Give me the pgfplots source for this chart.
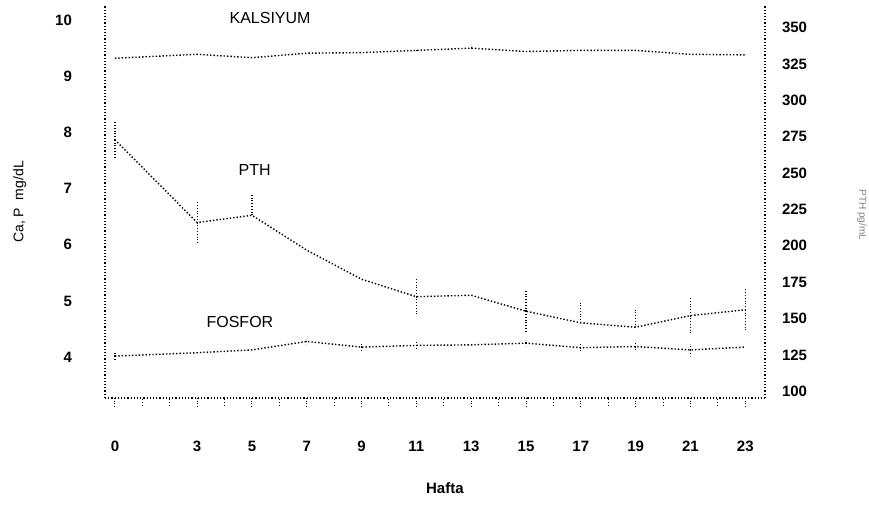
\documentclass[border=0pt]{standalone}
\usepackage{fontspec}
\setmainfont{Liberation Sans}
\usepackage{pgfplots}
\pgfplotsset{compat=1.18}

\pgfplotsset{
  common/.style={
    scale only axis,
    width=330pt,
    height=196pt,
    xmin=-0.365, xmax=23.72,
    /pgf/number format/assume math mode=true,
    tick label style={font=\fontsize{7.5}{8}\selectfont\bfseries},
    axis line style={black, densely dotted, line width=0.6pt},
  },
  dataline/.style={black, densely dotted, line width=0.7pt, mark=none},
  ebars/.style={error bars/.cd, y dir=both, y explicit, error mark=none,
    error bar style={densely dotted, line width=0.6pt}},
}

\begin{document}
\begin{tikzpicture}
% left axis: Ca and P (mg/dL)
\begin{axis}[
  common,
  axis y line*=left,
  axis x line*=bottom,
  ymin=3.274, ymax=10.25,
  ytick={4,5,6,7,8,9,10},
  xtick={0,3,5,7,9,11,13,15,17,19,21,23},
  minor xtick={1,2,4,6,8,10,12,14,16,18,20,22},
  tick align=outside,
  x tick style={black, densely dotted, line width=0.5pt},
  minor x tick style={black, densely dotted, line width=0.5pt},
  y tick style={draw=none},
  major tick length=4pt,
  minor tick length=4pt,
  xticklabel style={yshift=-14pt},
  yticklabel style={xshift=-9pt},
  ylabel={Ca, P \ mg/dL},
  ylabel style={at={(axis description cs:-0.129,0.5)}, anchor=center,
    font=\fontsize{7}{8}\selectfont},
  clip=false,
]
% KALSIYUM
\addplot[dataline, ebars]
  coordinates {(0,9.32) (3,9.39) +- (0,0.04) (5,9.33) (7,9.41) (9,9.42) (11,9.46) +- (0,0.04)
  (13,9.50) +- (0,0.05) (15,9.44) (17,9.46) (19,9.46) +- (0,0.04) (21,9.39) (23,9.38)};
% FOSFOR
\addplot[dataline, ebars]
  coordinates {(0,4.02) +- (0,0.06) (3,4.08) (5,4.13) (7,4.28) +- (0,0.05) (9,4.18) +- (0,0.06)
  (11,4.21) +- (0,0.08) (13,4.22) (15,4.25) +- (0,0.05) (17,4.17) +- (0,0.06)
  (19,4.19) +- (0,0.08) (21,4.13) +- (0,0.1) (23,4.18)};
\node[font=\fontsize{8}{9}\selectfont] at (axis cs:5.66,10.04) {KALSIYUM};
\node[font=\fontsize{8}{9}\selectfont] at (axis cs:4.56,4.63) {FOSFOR};
\node[font=\fontsize{8}{9}\selectfont] at (axis cs:5.1,7.33) {PTH};
\node[font=\fontsize{7.5}{8}\selectfont\bfseries] at (axis description cs:0.515,-0.2296) {Hafta};
\coordinate (bbsw) at (axis description cs:-0.159,-0.2806);
\coordinate (bbne) at (axis description cs:1.1576,1.0153);
\end{axis}
% right axis: PTH (pg/mL)
\begin{axis}[
  common,
  axis y line*=right,
  axis x line=none,
  ymin=95.3, ymax=365,
  ytick={100,125,150,175,200,225,250,275,300,325,350},
  y tick style={draw=none},
  yticklabel style={xshift=5pt},
  ylabel={PTH pg/mL},
  ylabel style={at={(axis description cs:1.147,0.467)}, anchor=center, rotate=180,
    font=\fontsize{5}{6}\selectfont, text=gray},
  clip=false,
]
\addplot[dataline, ebars]
  coordinates {(0,273) +- (0,12) (3,216) +- (0,14) (5,221) += (0,15) (7,197) (9,177)
  (11,165) +- (0,12) (13,166) (15,155) +- (0,14) (17,147) += (0,14)
  (19,144) += (0,12) (21,152) +- (0,12) (23,156) +- (0,14)};
\end{axis}
\pgfresetboundingbox
\path[use as bounding box] (bbsw) rectangle (bbne);
\end{tikzpicture}
\end{document}
